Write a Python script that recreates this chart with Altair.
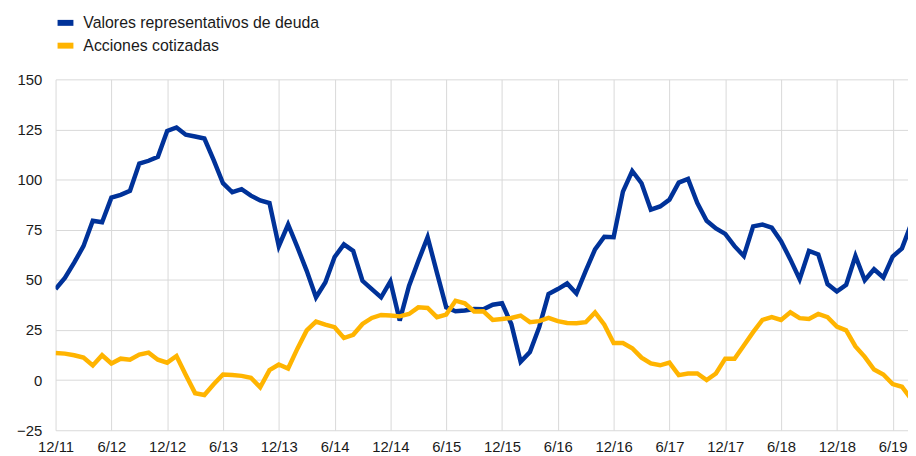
import altair as alt
import pandas as pd

series_names = ["Valores representativos de deuda", "Acciones cotizadas"]
series_colors = ["#003299", "#FFB400"]

tick_labels = ["12/11", "6/12", "12/12", "6/13", "12/13", "6/14", "12/14", "6/15",
               "12/15", "6/16", "12/16", "6/17", "12/17", "6/18", "12/18", "6/19"]

# monthly values, Dec 2011 .. Aug 2019
debt = [45.4, 51, 58.6, 66.8, 79.5, 78.7, 91, 92.4, 94.4, 108, 109.4, 111.4,
        124.3, 126, 122.4, 121.5, 120.5, 109.7, 98.2, 93.7, 95.2, 92, 89.6, 88.3,
        66.8, 77.6, 66.3, 54.5, 41.3, 48.7, 61.4, 67.7, 64.4, 49.5, 45.4, 41.3,
        49.2, 29.7, 47, 59.4, 71.3, 53.6, 36.3, 34.3, 34.7, 35.5, 35.3, 37.6,
        38.3, 28, 9.1, 14, 26.4, 42.9, 45.4, 48.2, 43.2, 54.5, 65.2, 71.5,
        71.3, 94, 104.3, 98.2, 85, 86.6, 90, 98.5, 100.3, 88.3, 79.5, 75.6,
        72.9, 66.8, 61.9, 76.7, 77.6, 76, 69.3, 60.2, 50.3, 64.4, 62.7, 47.9,
        44.2, 47.5, 61.9, 49.8, 55.3, 51.2, 61.6, 65.7, 78]

equity = [13.5, 13.2, 12.4, 11.2, 7.3, 12.4, 8.3, 10.7, 10.2, 12.7, 13.7, 10.2,
          8.7, 12, 2.5, -6.5, -7.4, -2.1, 2.8, 2.5, 2.1, 1.2, -3.6, 5,
          7.8, 5.8, 15.7, 24.8, 29.2, 27.7, 26.4, 21, 22.6, 28, 31, 32.5,
          32.2, 31.8, 33, 36.3, 36, 31.4, 32.7, 39.6, 38.3, 34.2, 34.3, 30,
          30.5, 31, 32.2, 28.9, 29.4, 31, 29.4, 28.5, 28.4, 28.9, 33.8, 27.6,
          18.5, 18.5, 15.9, 11.2, 8.3, 7.4, 8.7, 2.5, 3.3, 3.3, 0, 3.3,
          10.7, 10.7, 17.3, 23.9, 30, 31.4, 30, 33.8, 30.9, 30.5, 33, 31.4,
          26.7, 24.8, 16.8, 11.6, 5.3, 2.8, -2, -3.3, -9.5]

rows = []
for name, vals in zip(series_names, [debt, equity]):
    for i, v in enumerate(vals):
        rows.append({"m": i, "serie": name, "valor": v})
df = pd.DataFrame(rows)

label_js = "[" + ",".join("'%s'" % t for t in tick_labels) + "]"

font = "Arial, Liberation Sans, sans-serif"

chart = alt.Chart(df).mark_line(strokeWidth=4.5, clip=True, strokeJoin="miter").encode(
    x=alt.X("m:Q",
            scale=alt.Scale(domain=[0, 91.65], nice=False, zero=False),
            axis=alt.Axis(values=list(range(0, 91, 6)), title=None,
                          labelExpr=label_js + "[round(datum.value/6)]",
                          grid=True, gridColor="#d9d9d9", domain=False, ticks=False,
                          labelPadding=9, labelFontSize=15, labelFont=font,
                          labelColor="#1a1a1a", labelFlush=False, labelOverlap=False)),
    y=alt.Y("valor:Q",
            scale=alt.Scale(domain=[-25, 150], nice=False),
            axis=alt.Axis(values=list(range(-25, 151, 25)), title=None,
                          grid=True, gridColor="#d9d9d9", domain=False, ticks=False,
                          labelPadding=14, labelFontSize=15, labelFont=font,
                          labelColor="#1a1a1a")),
    color=alt.Color("serie:N",
                    scale=alt.Scale(domain=series_names, range=series_colors),
                    legend=alt.Legend(title=None, orient="none", legendX=-1, legendY=-68,
                                      symbolType="stroke", symbolStrokeWidth=6,
                                      symbolSize=256, labelFontSize=16, labelFont=font,
                                      labelColor="#1a1a1a", rowPadding=-2, padding=0,
                                      labelOffset=7, labelLimit=500)),
).properties(
    width=860, height=354,
    autosize=alt.AutoSizeParams(type="none"),
    padding={"left": 48, "top": 70, "right": 0, "bottom": 24},
).configure_view(stroke=None)

chart.save("out.html", embed_options={"renderer": "svg", "actions": False})
